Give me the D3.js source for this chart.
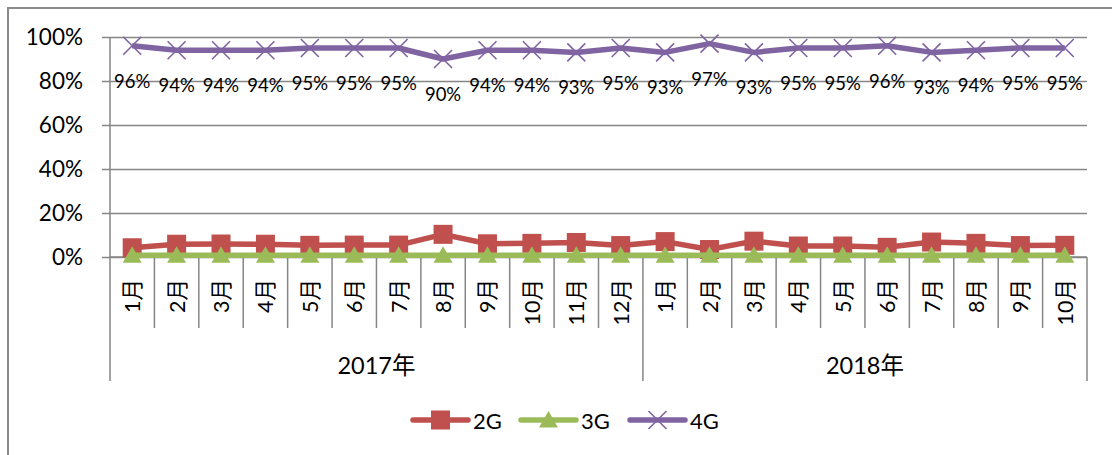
<!DOCTYPE html>
<html>
<head>
<meta charset="utf-8">
<script src="https://cdn.jsdelivr.net/npm/d3@7"></script>
<style>
  body { margin: 0; background: #fff; }
  svg { display: block; font-family: Lato, "Noto Sans CJK SC", sans-serif; }
</style>
</head>
<body>
<svg id="chart" width="1112" height="455"></svg>
<script>
// categories
const monthLabels = ['1月','2月','3月','4月','5月','6月','7月','8月','9月','10月','11月','12月',
                     '1月','2月','3月','4月','5月','6月','7月','8月','9月','10月'];
const yearLabels = ['2017年', '2018年'];
const yearCounts = [12, 10];
const yTicks = [0, 0.2, 0.4, 0.6, 0.8, 1];

// series values (share)
const share2G = [0.042,0.058,0.059,0.058,0.053,0.054,0.054,0.103,0.060,0.062,0.066,0.052,
                 0.070,0.034,0.072,0.050,0.050,0.044,0.068,0.062,0.052,0.053];
const share3G = [0.008,0.008,0.008,0.008,0.008,0.008,0.008,0.008,0.008,0.008,0.008,0.008,
                 0.008,0.008,0.008,0.008,0.008,0.008,0.008,0.008,0.008,0.008];
const share4G = [0.96,0.94,0.94,0.94,0.95,0.95,0.95,0.90,0.94,0.94,0.93,0.95,
                 0.93,0.97,0.93,0.95,0.95,0.96,0.93,0.94,0.95,0.95];

const colors = { '2G': '#C0504D', '3G': '#9BBB59', '4G': '#8064A2' };
const gridColor = '#868686';

const svg = d3.select('#chart');
const plotLeft = 110, plotRight = 1087, plotTop = 37, plotBase = 257;

const x = d3.scaleBand().domain(d3.range(monthLabels.length)).range([plotLeft, plotRight]);
const cx = i => x(i) + x.bandwidth() / 2;
const y = d3.scaleLinear().domain([0, 1]).range([plotBase, plotTop]);

// outer frame
svg.append('path')
    .attr('d', 'M8,456 L8,8 L1113,8')
    .attr('fill', 'none').attr('stroke', '#8a8a8a').attr('stroke-width', 2);

// y axis + gridlines
const yAxis = svg.append('g')
    .attr('transform', `translate(${plotLeft - 8},0)`)
    .call(d3.axisLeft(y).tickValues(yTicks).tickFormat(d3.format('.0%'))
        .tickSize(-(plotRight - plotLeft + 8)).tickPadding(19));
yAxis.select('.domain').remove();
yAxis.selectAll('line').attr('stroke', gridColor).attr('stroke-width', 1.5);
yAxis.selectAll('text').attr('font-size', 22.5).attr('fill', '#000')
    .attr('font-family', 'Lato, sans-serif');

// category axis line and separators
svg.append('line').attr('x1', plotLeft).attr('x2', plotRight).attr('y1', plotBase).attr('y2', plotBase)
    .attr('stroke', gridColor).attr('stroke-width', 1.5);
svg.append('line').attr('x1', plotLeft).attr('x2', plotLeft).attr('y1', plotTop).attr('y2', 381)
    .attr('stroke', gridColor).attr('stroke-width', 1.5);

let acc = 0;
const yearBounds = [0];
yearCounts.forEach(c => { acc += c; yearBounds.push(acc); });

svg.append('g').selectAll('line')
    .data(d3.range(1, monthLabels.length).filter(i => !yearBounds.includes(i)))
    .join('line')
    .attr('x1', i => x(i)).attr('x2', i => x(i))
    .attr('y1', plotBase).attr('y2', 328)
    .attr('stroke', gridColor).attr('stroke-width', 1.5);

svg.append('g').selectAll('line')
    .data(yearBounds.slice(1))
    .join('line')
    .attr('x1', i => i < monthLabels.length ? x(i) : plotRight)
    .attr('x2', i => i < monthLabels.length ? x(i) : plotRight)
    .attr('y1', plotBase).attr('y2', 381)
    .attr('stroke', gridColor).attr('stroke-width', 1.5);

// month labels
svg.append('g').selectAll('text')
    .data(monthLabels)
    .join('text')
    .attr('transform', (d, i) => `translate(${cx(i)},279) rotate(-90)`)
    .attr('text-anchor', 'end')
    .attr('dominant-baseline', 'central')
    .attr('font-size', 21.5)
    .text(d => d);

// year labels
svg.append('g').selectAll('text')
    .data(yearLabels)
    .join('text')
    .attr('x', (d, i) => {
        const a = x(yearBounds[i]);
        const b = yearBounds[i + 1] < monthLabels.length ? x(yearBounds[i + 1]) : plotRight;
        return (a + b) / 2;
    })
    .attr('y', 365)
    .attr('text-anchor', 'middle')
    .attr('dominant-baseline', 'central')
    .attr('font-size', 23.5)
    .text(d => d);

// series
const line = d3.line().x((d, i) => cx(i)).y(d => y(d));
const seriesList = [
    { name: '3G', values: share3G, marker: 'tri' },
    { name: '2G', values: share2G, marker: 'sq' },
    { name: '4G', values: share4G, marker: 'x' }
];
const drawOrder = [seriesList[1], seriesList[0], seriesList[2]];

function marker(g, type, color) {
    if (type === 'sq') {
        g.append('rect').attr('x', -9.5).attr('y', -9.5).attr('width', 19).attr('height', 19)
            .attr('fill', color);
    } else if (type === 'tri') {
        g.append('path').attr('d', 'M0,-9 L9.5,7.5 L-9.5,7.5 Z').attr('fill', color);
    } else {
        g.append('path').attr('d', 'M-9,-9 L9,9 M9,-9 L-9,9')
            .attr('stroke', color).attr('stroke-width', 1.6).attr('fill', 'none');
    }
}

drawOrder.forEach(s => {
    const c = colors[s.name];
    svg.append('path').datum(s.values)
        .attr('d', line)
        .attr('fill', 'none')
        .attr('stroke', c)
        .attr('stroke-width', 5.5)
        .attr('stroke-linejoin', 'round');
    svg.append('g').selectAll('g')
        .data(s.values)
        .join('g')
        .attr('transform', (d, i) => `translate(${cx(i)},${y(d)})`)
        .each(function () { marker(d3.select(this), s.marker, c); });
});

// 4G data labels
svg.append('g').selectAll('text')
    .data(share4G)
    .join('text')
    .attr('x', (d, i) => cx(i))
    .attr('y', d => y(d) + 35)
    .attr('text-anchor', 'middle')
    .attr('dominant-baseline', 'central')
    .attr('font-size', 18.5)
    .text(d => d3.format('.0%')(d));

// legend
const legendItems = [
    { s: seriesList[1], x0: 413 },
    { s: seriesList[0], x0: 521 },
    { s: seriesList[2], x0: 630 }
];
const lg = svg.append('g');
legendItems.forEach(it => {
    const c = colors[it.s.name];
    lg.append('line').attr('x1', it.x0).attr('x2', it.x0 + 55)
        .attr('y1', 420).attr('y2', 420)
        .attr('stroke', c).attr('stroke-width', 5.5).attr('stroke-linecap', 'round');
    const m = lg.append('g').attr('transform', `translate(${it.x0 + 27.5},420)`);
    marker(m, it.s.marker, c);
    lg.append('text').attr('x', it.x0 + 60).attr('y', 420)
        .attr('dominant-baseline', 'central')
        .attr('font-size', 22)
        .text(it.s.name);
});
</script>
</body>
</html>
